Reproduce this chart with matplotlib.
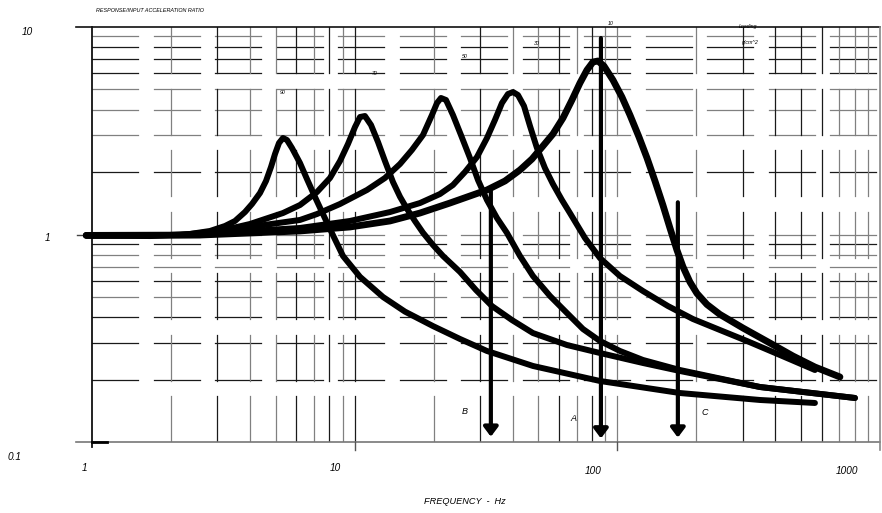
import numpy as np
import matplotlib
matplotlib.use("Agg")
import matplotlib.pyplot as plt

plt.rcParams['font.family'] = ['Liberation Sans', 'DejaVu Sans']

# response curves (frequency Hz, ratio)
f_90 = [0.95, 1.663, 2.361, 2.814, 3.209, 3.503, 3.823, 4.066, 4.361, 4.597, 4.802, 4.974,
        5.151, 5.334, 5.525, 5.772, 6.191, 6.582, 7.063, 7.573, 8.054, 9.026, 10.48, 12.82,
        15.54, 19.87, 25.18, 31.89, 47.73, 85.87, 173.1, 349.1, 565.3]
r_90 = [0.99, 0.983, 1.006, 1.04, 1.099, 1.162, 1.283, 1.403, 1.585, 1.811, 2.114, 2.443,
        2.760, 2.917, 2.854, 2.611, 2.211, 1.851, 1.516, 1.255, 1.063, 0.788, 0.625, 0.500,
        0.425, 0.362, 0.3137, 0.2746, 0.2325, 0.1968, 0.1722, 0.1594, 0.1542]

f_70 = [0.95, 2.163, 3.071, 3.996, 5.334, 6.191, 7.187, 8.054, 8.794, 9.430, 10.03, 10.48,
        10.94, 11.54, 12.27, 13.04, 13.99, 14.88, 15.82, 16.97, 18.2, 19.87, 21.69, 25.18,
        28.96, 33.32, 39.71, 47.73, 64.29, 85.87, 125.2, 173.1, 349.1, 802.8]
r_70 = [0.99, 0.994, 1.04, 1.124, 1.269, 1.387, 1.602, 1.872, 2.261, 2.730, 3.297, 3.684,
        3.724, 3.372, 2.791, 2.261, 1.791, 1.520, 1.330, 1.160, 1.020, 0.890, 0.788, 0.660,
        0.540, 0.452, 0.387, 0.335, 0.2934, 0.2685, 0.2403, 0.2199, 0.1841, 0.1630]

f_50 = [0.95, 2.577, 3.996, 6.191, 7.187, 8.794, 11.14, 13.04, 14.88, 16.52, 18.2, 19.69,
        20.58, 21.31, 22.27, 23.67, 25.39, 27.48, 29.48, 31.89, 34.81, 38.01, 42.59, 47.73,
        55.41, 64.29, 73.98, 85.87, 102.3, 125.2, 173.1, 349.1, 802.8]
r_50 = [0.99, 0.994, 1.087, 1.175, 1.255, 1.403, 1.639, 1.872, 2.187, 2.555, 3.016, 3.766,
        4.301, 4.548, 4.448, 3.766, 3.016, 2.337, 1.830, 1.466, 1.201, 1.017, 0.788, 0.631,
        0.5055, 0.4185, 0.3504, 0.3068, 0.2746, 0.2485, 0.2223, 0.1841, 0.1630]

f_30 = [0.95, 2.577, 3.996, 6.191, 9.596, 13.63, 17.73, 21.12, 23.67, 26.3, 29.22, 31.89,
        34.2, 36.37, 38.34, 40.06, 41.85, 44.12, 46.5, 49.43, 53.02, 56.86, 61.54, 66.0,
        75.3, 85.87, 102.3, 125.2, 155.9, 194.0, 245.8, 311.4, 415.9, 565.3]
r_30 = [0.99, 0.994, 1.04, 1.075, 1.162, 1.283, 1.418, 1.567, 1.732, 2.001, 2.363, 2.917,
        3.563, 4.301, 4.753, 4.860, 4.701, 4.161, 3.334, 2.611, 2.091, 1.751, 1.466, 1.269,
        0.962, 0.770, 0.631, 0.534, 0.452, 0.3915, 0.3465, 0.3068, 0.2626, 0.2223]

f_10 = [0.95, 2.577, 3.996, 6.191, 9.596, 13.63, 17.73, 23.06, 31.89, 37.35, 42.59, 47.32,
        52.1, 56.86, 62.09, 67.18, 72.07, 76.63, 80.77, 84.39, 88.94, 96.23, 104.1, 111.7,
        120.9, 129.7, 139.1, 149.1, 158.6, 168.6, 177.7, 189.0, 201.0, 219.4, 245.8, 300.8,
        380.9, 466.1, 565.3, 703.8]
r_10 = [0.99, 0.994, 1.017, 1.04, 1.087, 1.162, 1.269, 1.418, 1.639, 1.811, 2.046, 2.311,
        2.670, 3.050, 3.642, 4.448, 5.372, 6.204, 6.782, 6.858, 6.486, 5.553, 4.599, 3.766,
        2.951, 2.337, 1.811, 1.387, 1.075, 0.842, 0.700, 0.590, 0.520, 0.460, 0.412, 0.3543,
        0.300, 0.2597, 0.2298, 0.2058]

curves = [(f_90, r_90, 4.3), (f_70, r_70, 4.3), (f_50, r_50, 4.3), (f_30, r_30, 4.3), (f_10, r_10, 4.9)]

# arrows A, B, C: frequency, top, tip
arrow_names = ['B', 'A', 'C']
arrow_f = [33.0, 86.6, 170]
arrow_top = [1.64, 8.85, 1.43]
arrow_tip = [0.106, 0.104, 0.105]
arrow_lbl_f = [26.3, 67.8, 216]
arrow_lbl_r = [0.141, 0.1305, 0.139]

# loading labels
load_lbl = ['90', '70', '50', '30', '10']
load_f = [5.34, 11.9, 26.3, 49.4, 94.6]
load_r = [4.86, 6.0, 7.17, 8.37, 10.45]

# grid
x_grid = [2, 3, 4, 5, 6, 7, 8, 9, 10, 20, 30, 40, 50, 60, 70, 80, 90, 100,
          200, 300, 400, 500, 600, 700, 800, 900]
x_grid_col = ['g', 'k', 'g', 'g', 'k', 'g', 'k', 'g', 'k', 'g', 'k', 'g', 'g', 'k', 'g', 'k', 'g', 'g',
              'g', 'k', 'k', 'k', 'k', 'g', 'g', 'g']
y_grid = [0.2, 0.3, 0.4, 0.5, 0.6, 0.7, 0.8, 0.9, 1, 2, 3, 4, 5, 6, 7, 8, 9]
y_grid_col = ['k', 'k', 'k', 'g', 'k', 'g', 'g', 'k', 'g', 'k', 'g', 'g', 'g', 'k', 'k', 'k', 'g']
cmap = {'k': '#1a1a1a', 'g': '#808080'}

W, H = 882, 513
fig = plt.figure(figsize=(W / 100, H / 100), dpi=100)
L, R, T, B = 92, 880, 27, 442
ax = fig.add_axes([L / W, 1 - B / H, (R - L) / W, (B - T) / H])
ax.set_xscale('log')
ax.set_yscale('log')
ax.set_xlim(1, 1000)
ax.set_ylim(0.1, 10)
for s in ax.spines.values():
    s.set_visible(False)
ax.set_xticks([])
ax.set_yticks([])
ax.minorticks_off()
ax.tick_params(which='both', length=0, labelleft=False, labelbottom=False)

pw, ph = R - L, B - T
# horizontal grid, broken into bands along x
for k in range(13):
    x0 = 61.5 * k / pw
    x1 = (61.5 * k + 46) / pw
    for y, c in zip(y_grid, y_grid_col):
        ax.axhline(y, x0, x1, color=cmap[c], lw=0.9, zorder=1)
# vertical grid, broken into bands along y
for k in range(7):
    y1 = 1 - 61.5 * k / ph
    y0 = 1 - (61.5 * k + 46) / ph
    for x, c in zip(x_grid, x_grid_col):
        ax.axvline(x, y0, y1, color=cmap[c], lw=0.9, zorder=1)

# frame
ax.plot([-16 / pw, 1], [1, 1], transform=ax.transAxes, color='#111111', lw=1.2, clip_on=False)
ax.plot([-16 / pw, 1], [0, 0], transform=ax.transAxes, color='#777777', lw=1.2, clip_on=False)
ax.plot([0, 0], [-5 / ph, 1], transform=ax.transAxes, color='#111111', lw=1.3, clip_on=False)
ax.plot([1, 1], [-8 / ph, 1], transform=ax.transAxes, color='#888888', lw=1.2, clip_on=False)
ax.plot([0, 15 / pw], [0, 0], transform=ax.transAxes, color='black', lw=2, clip_on=False)
ax.plot([-15 / pw, 0], [0.5, 0.5], transform=ax.transAxes, color='#444444', lw=1, clip_on=False)
for xt in [1 / 3, 2 / 3]:
    ax.plot([xt, xt], [-8 / ph, 0], transform=ax.transAxes, color='#555555', lw=1, clip_on=False)

# curves
for f, r, lw in curves:
    ax.plot(f, r, color='black', lw=lw, solid_capstyle='round', solid_joinstyle='round',
            zorder=3, clip_on=False)

# arrows
for name, fa, top, tip, lf, lr in zip(arrow_names, arrow_f, arrow_top, arrow_tip, arrow_lbl_f, arrow_lbl_r):
    ax.annotate('', xy=(fa, tip), xytext=(fa, top),
                arrowprops=dict(arrowstyle='-|>,head_length=0.4,head_width=0.3', lw=3,
                                color='black', mutation_scale=14, shrinkA=0, shrinkB=0),
                zorder=4)
    ax.text(lf, lr, name, fontsize=6.5, style='italic', ha='center', va='center')

for t, lf, lr in zip(load_lbl, load_f, load_r):
    ax.text(lf, lr, t, fontsize=3.8, style='italic', ha='center', va='center')
ax.text(314, 10.05, 'Loading', fontsize=3.8, style='italic', ha='center', va='center', clip_on=False)
ax.text(320, 8.46, 'g/cm^2', fontsize=3.8, style='italic', ha='center', va='center')

# axis labels placed as in the source
def ftxt(x, y, s, size, **kw):
    fig.text(x / W, 1 - y / H, s, fontsize=size, style='italic', ha='center', va='center', **kw)

for s, x, y in [('10', 27, 32), ('1', 48, 238), ('0.1', 15, 457)]:
    ftxt(x, y, s, 7.2)
for s, x, y in [('1', 85, 468), ('10', 335, 468), ('100', 593, 471), ('1000', 847, 471)]:
    ftxt(x, y, s, 7.2)
ftxt(150, 10, 'RESPONSE/INPUT ACCELERATION RATIO', 3.9)
ftxt(465, 501, 'FREQUENCY  -  Hz', 6.6)

fig.savefig('out.png', dpi=100)
